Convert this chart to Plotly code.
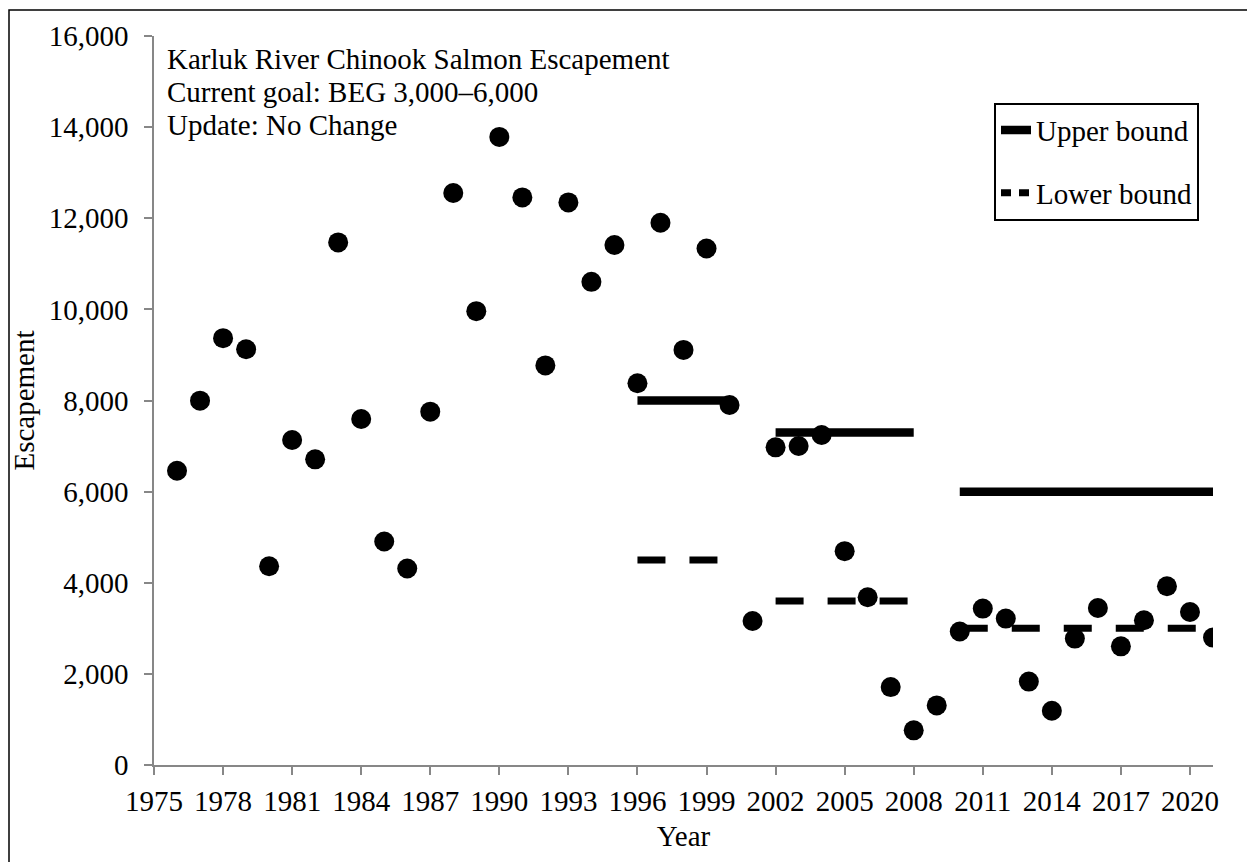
import plotly.graph_objects as go

# ---- data ----
years = list(range(1976, 2022))
escapement = [6458, 7997, 9368, 9126, 4363, 7133, 6708, 11469, 7594, 4906,
              4312, 7755, 12555, 9961, 13786, 12458, 8770, 12348, 10605, 11412,
              8379, 11902, 9111, 11337, 7902, 3161, 6972, 7001, 7242, 4693,
              3682, 1710, 760, 1308, 2930, 3433, 3213, 1830, 1191, 2774,
              3447, 2605, 3176, 3923, 3359, 2796]

goal_start = [1996, 2002, 2010]
goal_end = [2000, 2008, 2021]
upper_bound = [8000, 7300, 6000]
lower_bound = [4500, 3600, 3000]

title_lines = ["Karluk River Chinook Salmon Escapement",
               "Current goal: BEG 3,000\u20136,000",
               "Update: No Change"]

FONT = "Liberation Serif"
FS = 29
AX = "#878787"

OFF = 8  # page body margin
FIG_W, FIG_H = 1247, 854


def segments(starts, ends, vals):
    xs, ys = [], []
    for s, e, v in zip(starts, ends, vals):
        xs += [s, e, None]
        ys += [v, v, None]
    return xs, ys


fig = go.Figure()

ux, uy = segments(goal_start, goal_end, upper_bound)
lx, ly = segments(goal_start, goal_end, lower_bound)

fig.add_trace(go.Scatter(x=ux, y=uy, mode="lines", connectgaps=False,
                         line=dict(color="black", width=8.5),
                         showlegend=False, legendgroup="u", name="Upper bound"))
fig.add_trace(go.Scatter(x=lx, y=ly, mode="lines", connectgaps=False,
                         line=dict(color="black", width=7, dash="28px,24px"),
                         showlegend=False, legendgroup="l", name="Lower bound"))
fig.add_trace(go.Scatter(x=years, y=escapement, mode="markers",
                         marker=dict(color="black", size=20),
                         showlegend=False, name="Escapement"))

# legend entries
fig.add_trace(go.Scatter(x=[None], y=[None], mode="lines",
                         line=dict(color="black", width=8.5),
                         legendgroup="u", name="Upper bound"))
fig.add_trace(go.Scatter(x=[None], y=[None], mode="lines",
                         line=dict(color="black", width=7, dash="10px,8px"),
                         legendgroup="l", name="Lower bound"))

# plot-area edges in screen pixels
L, R, T, B = 154, 1213, 33, 765
W, H = R - L, B - T


def px(xp):
    return (xp - L) / W


def py(yp):
    return (B - yp) / H


for txt, yc in zip(title_lines, [56, 89, 122]):
    fig.add_annotation(text=txt, xref="paper", yref="paper", x=px(165), y=py(yc),
                       xanchor="left", yanchor="middle", showarrow=False,
                       font=dict(family=FONT, size=FS, color="black"))

fig.add_shape(type="rect", xref="paper", yref="paper",
              x0=px(9), x1=px(1250), y0=py(868), y1=py(7),
              line=dict(color="black", width=1.5), layer="above")

axis_common = dict(showline=True, linecolor=AX, linewidth=1.5, ticks="outside",
                   ticklen=8, tickwidth=1.5, tickcolor=AX, showgrid=False,
                   zeroline=False, tickfont=dict(family=FONT, size=FS, color="black"))

fig.update_layout(
    width=FIG_W, height=FIG_H, autosize=False,
    margin=dict(l=L - OFF, r=FIG_W - (R - OFF), t=T - OFF, b=FIG_H - (B - OFF)),
    paper_bgcolor="white", plot_bgcolor="white",
    font=dict(family=FONT, size=FS, color="black"),
    xaxis=dict(range=[1975, 2021], tick0=1975, dtick=3,
               title=dict(text="Year", font=dict(family=FONT, size=FS), standoff=10),
               ticklabelstandoff=1, **axis_common),
    yaxis=dict(range=[0, 16000], dtick=2000, tickformat=",",
               title=dict(text="Escapement", font=dict(family=FONT, size=FS), standoff=8),
               ticklabelstandoff=10, **axis_common),
    legend=dict(x=px(1199), y=py(100), xanchor="right", yanchor="top",
                bordercolor="black", borderwidth=2, bgcolor="white",
                font=dict(family=FONT, size=FS, color="black"),
                tracegroupgap=22, itemwidth=30),
)

fig.write_html("out.html")
